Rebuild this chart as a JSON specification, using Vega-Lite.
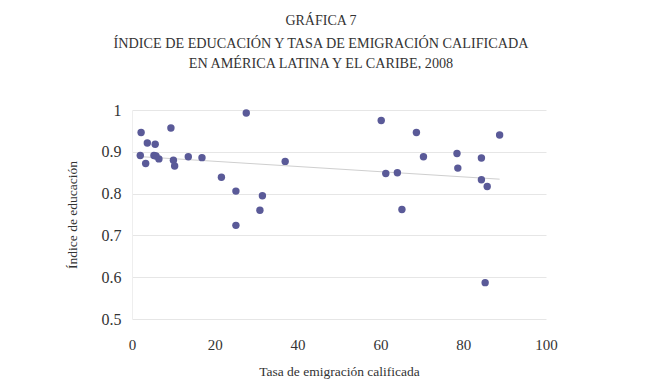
{
  "$schema": "https://vega.github.io/schema/vega-lite/v6.json",
  "autosize": "none",
  "width": 414,
  "height": 209,
  "padding": {"left": 132, "top": 110, "right": 104, "bottom": 70},
  "background": "white",
  "config": {
    "view": {"stroke": null},
    "font": "Liberation Serif"
  },
  "title": {
    "text": "GRÁFICA 7",
    "subtitle": ["ÍNDICE DE EDUCACIÓN Y TASA DE EMIGRACIÓN CALIFICADA", "EN AMÉRICA LATINA Y EL CARIBE, 2008"],
    "font": "Liberation Serif",
    "fontSize": 14,
    "fontWeight": "normal",
    "color": "#333333",
    "subtitleFont": "Liberation Serif",
    "subtitleFontSize": 14.2,
    "subtitleColor": "#333333",
    "subtitleLineHeight": 20,
    "subtitlePadding": 9,
    "anchor": "middle",
    "frame": "group",
    "offset": 31,
    "dx": -18
  },
  "data": {
    "values": [
      {"x": 2.2, "y": 0.946},
      {"x": 2.0, "y": 0.891},
      {"x": 3.7, "y": 0.921},
      {"x": 3.3, "y": 0.872},
      {"x": 5.6, "y": 0.918},
      {"x": 5.3, "y": 0.891},
      {"x": 5.8, "y": 0.890},
      {"x": 6.5, "y": 0.883},
      {"x": 9.4, "y": 0.957},
      {"x": 10.0, "y": 0.880},
      {"x": 10.3, "y": 0.866},
      {"x": 13.6, "y": 0.888},
      {"x": 16.9, "y": 0.886},
      {"x": 21.6, "y": 0.839},
      {"x": 25.1, "y": 0.806},
      {"x": 25.1, "y": 0.724},
      {"x": 27.6, "y": 0.993},
      {"x": 31.5, "y": 0.795},
      {"x": 30.9, "y": 0.760},
      {"x": 37.0, "y": 0.877},
      {"x": 60.2, "y": 0.975},
      {"x": 61.3, "y": 0.848},
      {"x": 64.1, "y": 0.850},
      {"x": 65.2, "y": 0.762},
      {"x": 68.7, "y": 0.946},
      {"x": 70.4, "y": 0.888},
      {"x": 78.5, "y": 0.896},
      {"x": 78.7, "y": 0.861},
      {"x": 84.4, "y": 0.885},
      {"x": 84.4, "y": 0.833},
      {"x": 85.8, "y": 0.817},
      {"x": 85.3, "y": 0.587},
      {"x": 88.8, "y": 0.940}
    ]
  },
  "encoding": {
    "x": {
      "field": "x", "type": "quantitative",
      "scale": {"domain": [0, 100], "nice": false},
      "axis": {
        "title": "Tasa de emigración calificada",
        "titleFont": "Liberation Serif", "titleFontSize": 13.5, "titleFontWeight": "normal", "titleColor": "#333333", "titlePadding": 12,
        "labelFont": "Liberation Serif", "labelFontSize": 15, "labelColor": "#333333",
        "values": [0, 20, 40, 60, 80, 100],
        "labelFlush": false,
        "grid": false, "domain": false, "ticks": false, "labelPadding": 18
      }
    },
    "y": {
      "field": "y", "type": "quantitative",
      "scale": {"domain": [0.5, 1], "nice": false, "zero": false},
      "axis": {
        "title": "Índice de educación",
        "titleFont": "Liberation Serif", "titleFontSize": 13.5, "titleFontWeight": "normal", "titleColor": "#333333", "titlePadding": 22,
        "labelFont": "Liberation Serif", "labelFontSize": 16, "labelColor": "#333333",
        "values": [0.5, 0.6, 0.7, 0.8, 0.9, 1],
        "labelExpr": "datum.value == 1 ? '1' : format(datum.value, '.1f')",
        "labelFlush": false,
        "grid": true, "gridColor": "#e6e6e6", "gridWidth": 1,
        "domain": true, "domainColor": "#eeeeee", "ticks": false, "labelPadding": 11
      }
    }
  },
  "layer": [
    {
      "mark": {"type": "line", "color": "#cfcfcf", "strokeWidth": 1},
      "transform": [{"regression": "y", "on": "x"}]
    },
    {
      "mark": {"type": "circle", "size": 55, "color": "#5a5a98", "opacity": 1}
    }
  ]
}
